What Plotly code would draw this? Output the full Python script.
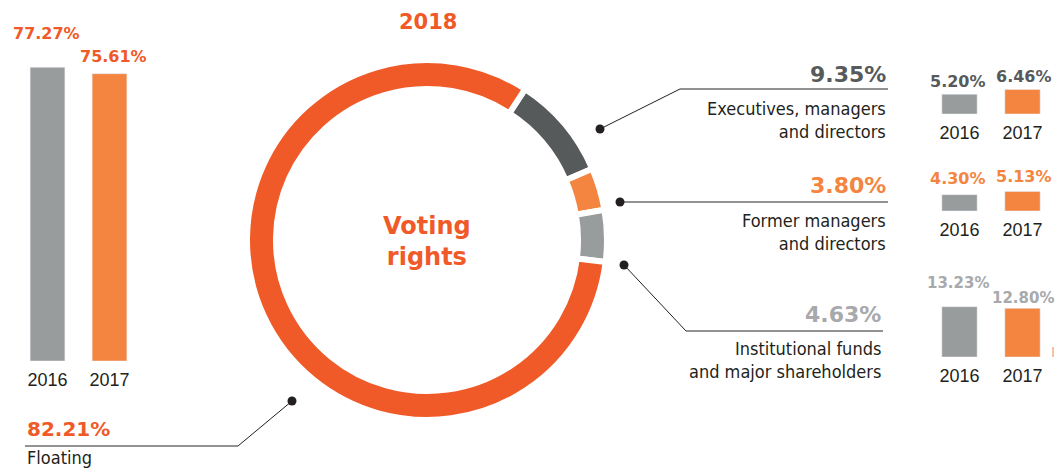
import plotly.graph_objects as go

# bars: 2016 vs 2017
years = ['2016', '2017']
floating_hist = [77.27, 75.61]
exec_hist = [5.20, 6.46]
former_hist = [4.30, 5.13]
inst_hist = [13.23, 12.80]

# donut 2018
groups_2018 = ['Executives, managers and directors', 'Former managers and directors',
               'Institutional funds and major shareholders', 'Floating']
shares_2018 = [9.35, 3.80, 4.63, 82.21]

# page body has an 8px margin, so the figure is the window minus 16
OFF = 8
W, H = 1063 - 2 * OFF, 476 - 2 * OFF
RED = '#F05A28'
ORANGE = '#F48540'
GRAY = '#999C9D'
DARK = '#575A5B'
LIGHT = '#A7A9AC'
TXT = '#231F20'
PCT_FONT = 'DejaVu Sans'
LBL_FONT = 'Liberation Sans Narrow, DejaVu Sans Condensed, Arial Narrow, sans-serif'


# page pixel -> paper fraction
def px(x):
    return (x - OFF) / W


def py(y):
    return 1 - (y - OFF) / H


fig = go.Figure()

# donut (white stroke makes the gaps)
fig.add_trace(go.Pie(values=shares_2018, labels=groups_2018, sort=False,
                     direction='clockwise', rotation=33, hole=0.839,
                     marker=dict(colors=[DARK, ORANGE, GRAY, RED],
                                 line=dict(color='white', width=6)),
                     textinfo='none', hoverinfo='label+percent', showlegend=False,
                     domain=dict(x=[px(247), px(607)], y=[py(420), py(60)])))

# bar groups: (values, axis suffix, x-domain px, bottom px, y max)
bar_sets = [
    (floating_hist, '', (16.5, 140.5), 361, 80),
    (exec_hist, '2', (928, 1054), 114, 14),
    (former_hist, '3', (928, 1054), 211, 14),
    (inst_hist, '4', (928, 1054), 357, 14),
]
scale = 3.8  # px per percent
for vals, s, (x0, x1), bottom, ymax in bar_sets:
    fig.add_trace(go.Bar(x=years, y=vals, marker_color=[GRAY, ORANGE],
                         xaxis='x' + s, yaxis='y' + s, showlegend=False,
                         hovertemplate='%{x}: %{y:.2f}%<extra></extra>'))
    top = bottom - ymax * scale
    fig.layout['xaxis' + s] = dict(domain=[px(x0), px(x1)], type='category',
                                   range=[-0.5, len(years) - 0.5],
                                   showgrid=False, showline=False, zeroline=False,
                                   ticks='', ticklabelstandoff=6, automargin=False,
                                   tickfont=dict(family='Liberation Sans, Arial', size=18, color=TXT),
                                   anchor='y' + s, fixedrange=True)
    fig.layout['yaxis' + s] = dict(domain=[py(bottom), py(top)], range=[0, ymax],
                                   visible=False, anchor='x' + s, fixedrange=True,
                                   automargin=False)

# value labels above the small bars
bar_labels = [
    ('', floating_hist, RED, 16, [(-1.5, 34), (4, 17)]),
    ('2', exec_hist, DARK, 16, [(-2, 13), (1.5, 13)]),
    ('3', former_hist, ORANGE, 16, [(-2, 16), (1, 15)]),
    ('4', inst_hist, LIGHT, 15, [(-2, 24), (0.5, 10)]),
]
ann = []
for s, vals, col, size, shifts in bar_labels:
    for i, (v, (dx, dy)) in enumerate(zip(vals, shifts)):
        ann.append(dict(x=i, y=v, xref='x' + s, yref='y' + s, text=f'{v:.2f}%',
                        showarrow=False, xanchor='center', yanchor='middle',
                        xshift=dx, yshift=dy,
                        font=dict(family=PCT_FONT, size=size, color=col, weight='bold')))

# donut call-outs
callouts = [
    # pct text, colour, label, x anchor, pct y, label y, align, pct size
    ('82.21%', RED, 'Floating', 25, 429, 457, 'left', 20),
    ('9.35%', DARK, 'Executives, managers<br>and directors', 888, 75, 120, 'right', 22),
    ('3.80%', ORANGE, 'Former managers<br>and directors', 888, 185, 232, 'right', 22),
    ('4.63%', LIGHT, 'Institutional funds<br>and major shareholders', 883, 314, 360, 'right', 22),
]
for pct, col, lbl, x, yp, yl, al, size in callouts:
    ann.append(dict(x=px(x), y=py(yp), xref='paper', yref='paper', text=pct, showarrow=False,
                    xanchor=al, yanchor='middle',
                    font=dict(family=PCT_FONT, size=size, color=col, weight='bold')))
    ann.append(dict(x=px(x), y=py(yl), xref='paper', yref='paper', text=lbl, showarrow=False,
                    xanchor=al, yanchor='middle', align=al,
                    font=dict(family=LBL_FONT, size=18, color=TXT)))

ann.append(dict(x=px(428), y=1, xref='paper', yref='paper', text='2018', showarrow=False,
                xanchor='center', yanchor='top',
                font=dict(family=PCT_FONT, size=21, color=RED, weight='bold')))
ann.append(dict(x=px(427), y=py(242), xref='paper', yref='paper', text='Voting<br>rights',
                showarrow=False, align='center', xanchor='center', yanchor='middle',
                font=dict(family=PCT_FONT, size=24, color=RED, weight='bold')))

# leader lines
shapes = []
leaders = [
    [(292, 401), (238, 446), (25, 446)],
    [(600, 129), (680, 89), (888, 89)],
    [(620, 202), (888, 202)],
    [(624, 265), (686, 331), (883, 331)],
]
for pts in leaders:
    for (xa, ya), (xb, yb) in zip(pts[:-1], pts[1:]):
        horiz = ya == yb
        shapes.append(dict(type='line', xref='paper', yref='paper',
                           x0=px(xa), y0=py(ya), x1=px(xb), y1=py(yb),
                           line=dict(color='#6D6E70' if horiz else '#231F20',
                                     width=1.5 if horiz else 1)))
    xd, yd = pts[0]
    shapes.append(dict(type='circle', xref='paper', yref='paper',
                       x0=px(xd - 4.5), x1=px(xd + 4.5), y0=py(yd + 4.5), y1=py(yd - 4.5),
                       fillcolor='#231F20', line=dict(width=0)))
shapes.append(dict(type='line', xref='paper', yref='paper', x0=px(1053), x1=px(1053),
                   y0=py(347), y1=py(357), line=dict(color=ORANGE, width=1)))

fig.update_layout(width=W, height=H, autosize=False, margin=dict(l=0, r=0, t=0, b=0),
                  paper_bgcolor='white', plot_bgcolor='white', bargap=0.44,
                  annotations=ann, shapes=shapes)

fig.write_html('out.html')
